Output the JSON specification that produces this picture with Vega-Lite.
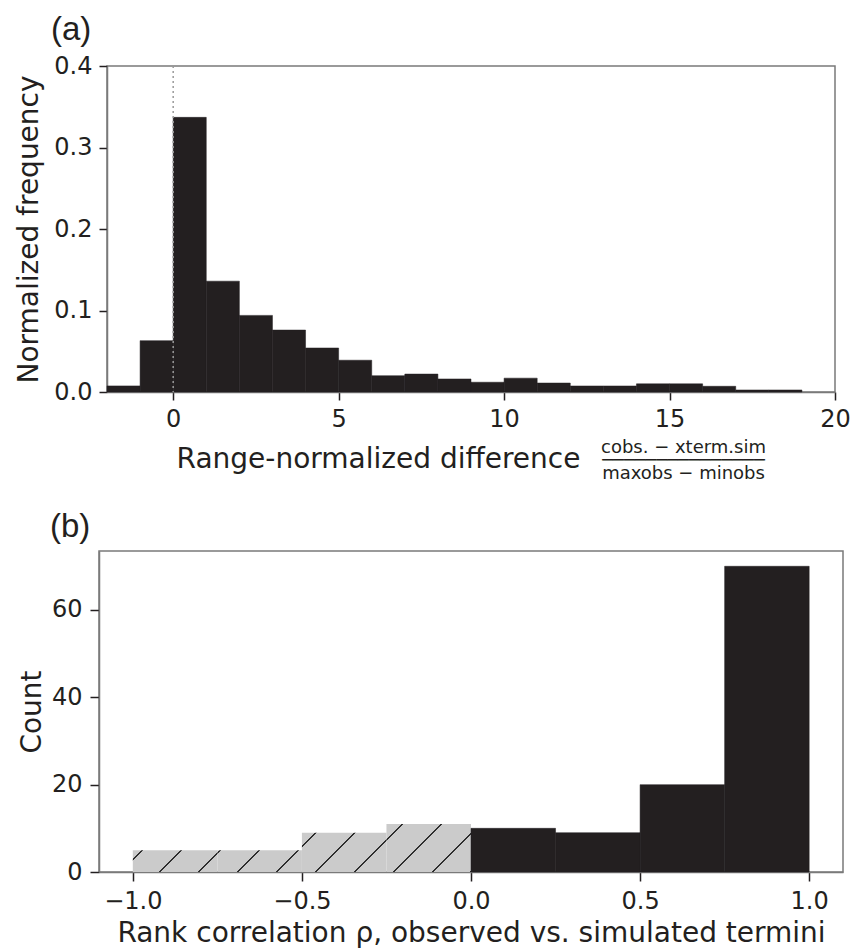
{
  "$schema": "https://vega.github.io/schema/vega-lite/v6.json",
  "padding": {"left": 15, "top": 13, "right": 5, "bottom": 5},
  "background": "white",
  "datasets": {
    "histA": [
      {"bin_start": -2, "bin_end": -1, "freq": 0.0075},
      {"bin_start": -1, "bin_end": 0, "freq": 0.063},
      {"bin_start": 0, "bin_end": 1, "freq": 0.337},
      {"bin_start": 1, "bin_end": 2, "freq": 0.136},
      {"bin_start": 2, "bin_end": 3, "freq": 0.094},
      {"bin_start": 3, "bin_end": 4, "freq": 0.076},
      {"bin_start": 4, "bin_end": 5, "freq": 0.054},
      {"bin_start": 5, "bin_end": 6, "freq": 0.039},
      {"bin_start": 6, "bin_end": 7, "freq": 0.020},
      {"bin_start": 7, "bin_end": 8, "freq": 0.022},
      {"bin_start": 8, "bin_end": 9, "freq": 0.016},
      {"bin_start": 9, "bin_end": 10, "freq": 0.012},
      {"bin_start": 10, "bin_end": 11, "freq": 0.017},
      {"bin_start": 11, "bin_end": 12, "freq": 0.011},
      {"bin_start": 12, "bin_end": 13, "freq": 0.0074},
      {"bin_start": 13, "bin_end": 14, "freq": 0.0074},
      {"bin_start": 14, "bin_end": 15, "freq": 0.010},
      {"bin_start": 15, "bin_end": 16, "freq": 0.010},
      {"bin_start": 16, "bin_end": 17, "freq": 0.007},
      {"bin_start": 17, "bin_end": 18, "freq": 0.0025},
      {"bin_start": 18, "bin_end": 19, "freq": 0.0025}
    ],
    "refA": [{"x": 0}],
    "histB": [
      {"bin_start": -1, "bin_end": -0.75, "count": 5, "sign": "negative"},
      {"bin_start": -0.75, "bin_end": -0.5, "count": 5, "sign": "negative"},
      {"bin_start": -0.5, "bin_end": -0.25, "count": 9, "sign": "negative"},
      {"bin_start": -0.25, "bin_end": 0, "count": 11, "sign": "negative"},
      {"bin_start": 0, "bin_end": 0.25, "count": 10, "sign": "positive"},
      {"bin_start": 0.25, "bin_end": 0.5, "count": 9, "sign": "positive"},
      {"bin_start": 0.5, "bin_end": 0.75, "count": 20, "sign": "positive"},
      {"bin_start": 0.75, "bin_end": 1, "count": 70, "sign": "positive"}
    ]
  },
  "concat": [
    {
      "hconcat": [
        {
          "width": 1,
          "height": 1,
          "view": {"stroke": null},
          "data": {"values": []},
          "mark": "point"
        },
        {
          "width": 728,
          "height": 326,
          "title": {"text": "(a)", "anchor": "start", "frame": "group", "dx": -56, "offset": -19, "baseline": "alphabetic", "font": "Liberation Sans", "fontSize": 33, "fontWeight": "normal", "color": "#231f20"},
          "layer": [
            {
              "data": {"name": "histA"},
              "mark": {"type": "rect", "fill": "#231f20", "stroke": "#231f20", "strokeWidth": 0.5},
              "encoding": {
                "x": {"field": "bin_start", "type": "quantitative", "scale": {"domain": [-2, 20], "nice": false, "zero": false},
                  "axis": {"values": [0, 5, 10, 15, 20], "format": "d", "title": "Range-normalized difference", "tickSize": 8, "labelPadding": 7, "titleX": 271, "titleY": 75, "titleAlign": "center", "titleBaseline": "alphabetic"}},
                "x2": {"field": "bin_end"},
                "y": {"field": "freq", "type": "quantitative", "scale": {"domain": [0, 0.4], "nice": false},
                  "axis": {"values": [0, 0.1, 0.2, 0.3, 0.4], "format": ".1f", "title": "Normalized frequency", "tickSize": 8, "labelPadding": 7, "titlePadding": 10}},
                "y2": {"datum": 0}
              }
            },
            {
              "data": {"name": "refA"},
              "mark": {"type": "rule", "color": "#9a9a9a", "strokeDash": [2, 3], "strokeWidth": 1.5},
              "encoding": {
                "x": {"field": "x", "type": "quantitative",
                  "axis": {"orient": "bottom", "labels": false, "ticks": false, "domain": false, "grid": false,
                    "title": ["cobs. − xterm.sim", "───────────────", "maxobs − minobs"],
                    "titleFontSize": 18, "titleX": 576, "titleY": 46, "titleAlign": "center", "titleBaseline": "top", "titleLineHeight": 13.3}}
              }
            }
          ],
          "resolve": {"axis": {"x": "independent"}}
        }
      ],
      "spacing": 7,
      "bounds": "flush"
    },
    {
      "width": 744,
      "height": 321,
      "title": {"text": "(b)", "anchor": "start", "frame": "group", "dx": -49, "offset": -19, "baseline": "alphabetic", "font": "Liberation Sans", "fontSize": 33, "fontWeight": "normal", "color": "#231f20"},
      "data": {"name": "histB"},
      "encoding": {
        "x": {"field": "bin_start", "type": "quantitative", "scale": {"domain": [-1.1, 1.1], "nice": false, "zero": false},
          "axis": {"values": [-1, -0.5, 0, 0.5, 1], "format": ".1f", "title": "Rank correlation ρ, observed vs. simulated termini", "tickSize": 9, "labelPadding": 8, "titleY": 69, "titleBaseline": "alphabetic"}},
        "x2": {"field": "bin_end"},
        "y": {"field": "count", "type": "quantitative", "scale": {"domain": [0, 73.5], "nice": false},
          "axis": {"values": [0, 20, 40, 60], "format": "d", "title": "Count", "tickSize": 9, "labelPadding": 8, "titlePadding": 5}},
        "y2": {"datum": 0}
      },
      "layer": [
        {
          "transform": [{"filter": "datum.bin_start == -1"}],
          "mark": {"type": "rect", "fill": {"gradient": "linear", "x1": 0, "y1": 0, "x2": 1.179, "y2": 0.304, "stops": [
            {"offset": 0, "color": "#cbcbcb"}, {"offset": 0.0836, "color": "#cbcbcb"}, {"offset": 0.0836, "color": "#2e2e2e"}, {"offset": 0.1024, "color": "#2e2e2e"}, {"offset": 0.1024, "color": "#cbcbcb"},
            {"offset": 0.4496, "color": "#cbcbcb"}, {"offset": 0.4496, "color": "#2e2e2e"}, {"offset": 0.4684, "color": "#2e2e2e"}, {"offset": 0.4684, "color": "#cbcbcb"},
            {"offset": 0.8156, "color": "#cbcbcb"}, {"offset": 0.8156, "color": "#2e2e2e"}, {"offset": 0.8344, "color": "#2e2e2e"}, {"offset": 0.8344, "color": "#cbcbcb"}, {"offset": 1, "color": "#cbcbcb"}]}}
        },
        {
          "transform": [{"filter": "datum.bin_start == -0.75"}],
          "mark": {"type": "rect", "fill": {"gradient": "linear", "x1": 0, "y1": 0, "x2": 1.179, "y2": 0.304, "stops": [
            {"offset": 0, "color": "#cbcbcb"}, {"offset": 0.0206, "color": "#cbcbcb"}, {"offset": 0.0206, "color": "#2e2e2e"}, {"offset": 0.0394, "color": "#2e2e2e"}, {"offset": 0.0394, "color": "#cbcbcb"},
            {"offset": 0.3866, "color": "#cbcbcb"}, {"offset": 0.3866, "color": "#2e2e2e"}, {"offset": 0.4054, "color": "#2e2e2e"}, {"offset": 0.4054, "color": "#cbcbcb"},
            {"offset": 0.7526, "color": "#cbcbcb"}, {"offset": 0.7526, "color": "#2e2e2e"}, {"offset": 0.7714, "color": "#2e2e2e"}, {"offset": 0.7714, "color": "#cbcbcb"}, {"offset": 1, "color": "#cbcbcb"}]}}
        },
        {
          "transform": [{"filter": "datum.bin_start == -0.5"}],
          "mark": {"type": "rect", "fill": {"gradient": "linear", "x1": 0, "y1": 0, "x2": 1.205, "y2": 0.56, "stops": [
            {"offset": 0, "color": "#cbcbcb"}, {"offset": 0.1049, "color": "#cbcbcb"}, {"offset": 0.1049, "color": "#2e2e2e"}, {"offset": 0.1211, "color": "#2e2e2e"}, {"offset": 0.1211, "color": "#cbcbcb"},
            {"offset": 0.4189, "color": "#cbcbcb"}, {"offset": 0.4189, "color": "#2e2e2e"}, {"offset": 0.4351, "color": "#2e2e2e"}, {"offset": 0.4351, "color": "#cbcbcb"},
            {"offset": 0.7339, "color": "#cbcbcb"}, {"offset": 0.7339, "color": "#2e2e2e"}, {"offset": 0.7501, "color": "#2e2e2e"}, {"offset": 0.7501, "color": "#cbcbcb"}, {"offset": 1, "color": "#cbcbcb"}]}}
        },
        {
          "transform": [{"filter": "datum.bin_start == -0.25"}],
          "mark": {"type": "rect", "fill": {"gradient": "linear", "x1": 0, "y1": 0, "x2": 1.186, "y2": 0.673, "stops": [
            {"offset": 0, "color": "#cbcbcb"}, {"offset": 0.1125, "color": "#cbcbcb"}, {"offset": 0.1125, "color": "#2e2e2e"}, {"offset": 0.1275, "color": "#2e2e2e"}, {"offset": 0.1275, "color": "#cbcbcb"},
            {"offset": 0.4065, "color": "#cbcbcb"}, {"offset": 0.4065, "color": "#2e2e2e"}, {"offset": 0.4215, "color": "#2e2e2e"}, {"offset": 0.4215, "color": "#cbcbcb"},
            {"offset": 0.7005, "color": "#cbcbcb"}, {"offset": 0.7005, "color": "#2e2e2e"}, {"offset": 0.7155, "color": "#2e2e2e"}, {"offset": 0.7155, "color": "#cbcbcb"},
            {"offset": 0.985, "color": "#cbcbcb"}, {"offset": 0.985, "color": "#2e2e2e"}, {"offset": 1, "color": "#2e2e2e"}]}}
        },
        {
          "transform": [{"filter": "datum.sign == 'positive'"}],
          "mark": {"type": "rect", "fill": "#231f20", "stroke": "#231f20", "strokeWidth": 0.5}
        }
      ]
    }
  ],
  "columns": 1,
  "spacing": 26,
  "config": {
    "font": "DejaVu Sans",
    "view": {"stroke": "#7a7a7a", "strokeWidth": 1.5},
    "axis": {
      "labelFont": "DejaVu Sans", "labelFontSize": 24, "labelColor": "#231f20",
      "titleFont": "DejaVu Sans", "titleFontSize": 28, "titleFontWeight": "normal", "titleColor": "#231f20",
      "tickColor": "#231f20", "tickWidth": 1.5, "domainColor": "#7a7a7a", "domainWidth": 1.5,
      "grid": false, "labelFlush": false, "labelOverlap": false
    }
  }
}
